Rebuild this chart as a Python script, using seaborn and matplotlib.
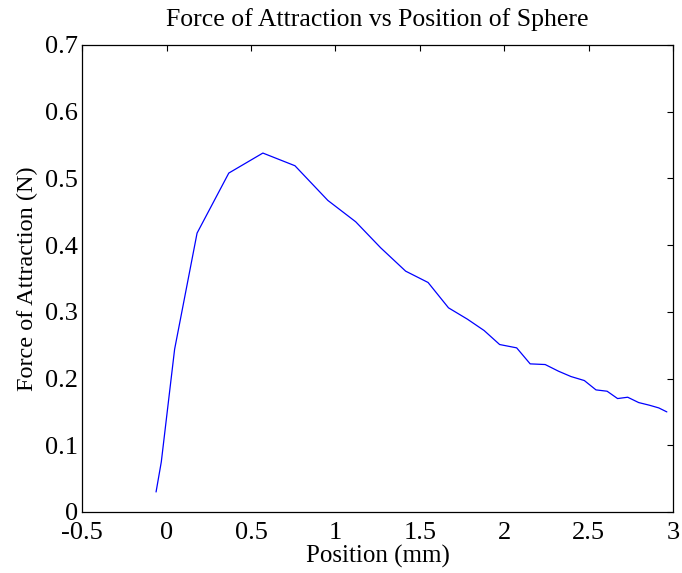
import matplotlib
matplotlib.use("Agg")
import matplotlib.pyplot as plt
import seaborn as sns
import pandas as pd

position_mm = [-0.063, -0.032, 0.047, 0.180, 0.368, 0.570, 0.760, 0.955, 1.120,
               1.268, 1.416, 1.549, 1.670, 1.782, 1.881, 1.973, 2.074, 2.154,
               2.243, 2.322, 2.396, 2.475, 2.544, 2.610, 2.672, 2.732, 2.797,
               2.861, 2.916, 2.964]
force_n = [0.030, 0.075, 0.244, 0.418, 0.508, 0.538, 0.519, 0.467, 0.435,
           0.396, 0.361, 0.344, 0.306, 0.289, 0.272, 0.251, 0.246, 0.222,
           0.221, 0.211, 0.203, 0.197, 0.183, 0.181, 0.170, 0.172, 0.164,
           0.160, 0.156, 0.150]

df = pd.DataFrame({"Position (mm)": position_mm, "Force of Attraction (N)": force_n})

sns.set_style("white")
plt.rcParams['font.family'] = ['Liberation Serif', 'DejaVu Serif']
plt.rcParams['text.color'] = 'black'
plt.rcParams['axes.labelcolor'] = 'black'

fig = plt.figure(figsize=(6.82, 5.73), dpi=100)
ax = fig.add_axes([0.1207, 0.1065, 0.866, 0.815])
sns.lineplot(data=df, x="Position (mm)", y="Force of Attraction (N)", ax=ax,
             color="#0000ff", linewidth=0.9, sort=False, estimator=None)
ax.set_xlim(-0.5, 3)
ax.set_ylim(0, 0.7)
ax.set_xticks([-0.5, 0, 0.5, 1, 1.5, 2, 2.5, 3])
ax.set_xticklabels(["-0.5", "0", "0.5", "1", "1.5", "2", "2.5", "3"])
ax.set_yticks([0, 0.1, 0.2, 0.3, 0.4, 0.5, 0.6, 0.7])
ax.set_yticklabels(["0", "0.1", "0.2", "0.3", "0.4", "0.5", "0.6", "0.7"])
ax.tick_params(direction="in", length=4, width=0.8, top=True, right=True,
               labelsize=19, colors="black")
ax.tick_params(axis="x", pad=7)
ax.tick_params(axis="y", pad=3)
for s in ax.spines.values():
    s.set_visible(True)
    s.set_color("black")
    s.set_linewidth(0.9)
ax.set_xlabel("Position (mm)", fontsize=18, labelpad=1, color="black")
ax.set_ylabel("Force of Attraction (N)", fontsize=17.5, labelpad=5, color="black")
ax.set_title("Force of Attraction vs Position of Sphere", fontsize=18.5, pad=14,
             color="black")
fig.savefig("out.png", dpi=100, facecolor="white")
